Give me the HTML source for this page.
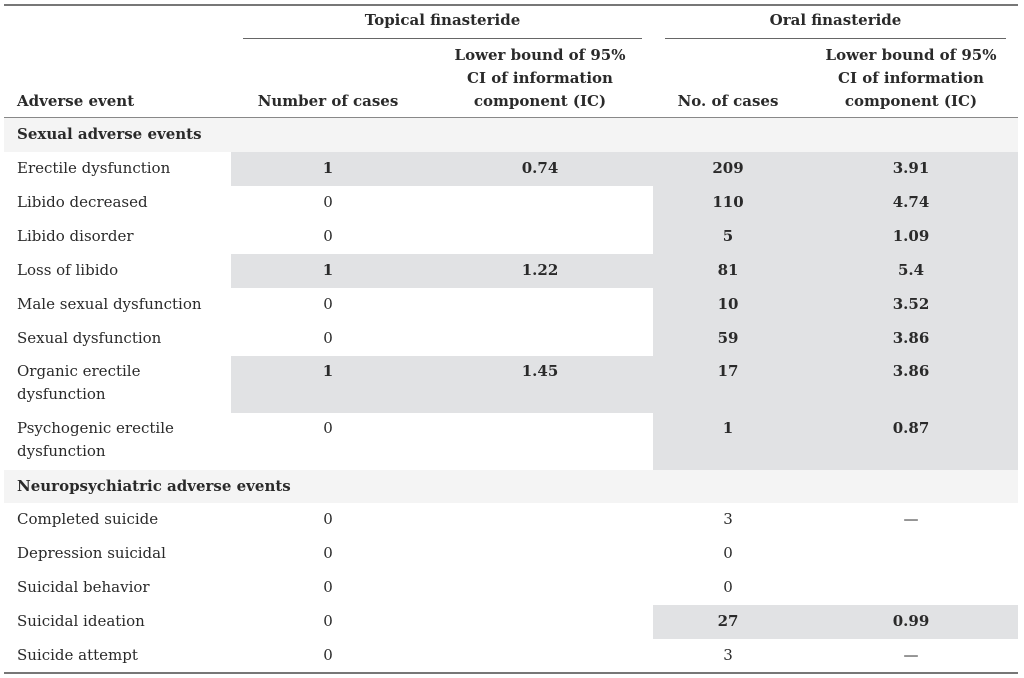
<!DOCTYPE html>
<html><head><meta charset="utf-8"><style>
body{margin:0;width:1024px;height:678px;background:#fff;font-family:"DejaVu Serif","Liberation Serif",serif;font-size:15px;color:#2a2a2a;position:relative;overflow:hidden}
div{position:absolute}
.t{white-space:nowrap;line-height:22px;margin-top:-1px}
.b{font-weight:bold}
.c{text-align:center}
.sh{background:#e1e2e4}
.lg{background:#f4f4f4}
</style></head><body>
<div style="left:4px;top:4px;width:1014px;height:2px;background:#777"></div>
<div class="t b c" style="left:243px;width:399px;top:10px">Topical finasteride</div>
<div class="t b c" style="left:665px;width:341px;top:10px">Oral finasteride</div>
<div style="left:243px;top:38px;width:399px;height:1px;background:#666"></div>
<div style="left:665px;top:38px;width:341px;height:1px;background:#666"></div>
<div class="t b" style="left:17px;top:91px">Adverse event</div>
<div class="t b c" style="left:228px;width:200px;top:91px">Number of cases</div>
<div class="t b c" style="left:424px;width:232px;top:45px;line-height:23px">Lower bound of 95%<br>CI of information<br>component (IC)</div>
<div class="t b c" style="left:628px;width:200px;top:91px">No. of cases</div>
<div class="t b c" style="left:796px;width:230px;top:45px;line-height:23px">Lower bound of 95%<br>CI of information<br>component (IC)</div>
<div style="left:4px;top:117px;width:1014px;height:1px;background:#888"></div>

<div class="lg" style="left:4px;top:118px;width:1014px;height:34px"></div>
<div class="t b" style="left:17px;top:124px">Sexual adverse events</div>
<div class="lg" style="left:4px;top:470px;width:1014px;height:33px"></div>
<div class="t b" style="left:17px;top:476px">Neuropsychiatric adverse events</div>

<div class="sh" style="left:231px;top:152px;width:787px;height:34px"></div>
<div class="sh" style="left:653px;top:186px;width:365px;height:68px"></div>
<div class="sh" style="left:231px;top:254px;width:787px;height:34px"></div>
<div class="sh" style="left:653px;top:288px;width:365px;height:68px"></div>
<div class="sh" style="left:231px;top:356px;width:787px;height:57px"></div>
<div class="sh" style="left:653px;top:413px;width:365px;height:57px"></div>
<div class="sh" style="left:653px;top:605px;width:365px;height:34px"></div>

<div class="t" style="left:17px;top:158px">Erectile dysfunction</div>
<div class="t" style="left:17px;top:192px">Libido decreased</div>
<div class="t" style="left:17px;top:226px">Libido disorder</div>
<div class="t" style="left:17px;top:260px">Loss of libido</div>
<div class="t" style="left:17px;top:294px">Male sexual dysfunction</div>
<div class="t" style="left:17px;top:328px">Sexual dysfunction</div>
<div class="t" style="left:17px;top:361px;line-height:23px">Organic erectile<br>dysfunction</div>
<div class="t" style="left:17px;top:418px;line-height:23px">Psychogenic erectile<br>dysfunction</div>
<div class="t" style="left:17px;top:509px">Completed suicide</div>
<div class="t" style="left:17px;top:543px">Depression suicidal</div>
<div class="t" style="left:17px;top:577px">Suicidal behavior</div>
<div class="t" style="left:17px;top:611px">Suicidal ideation</div>
<div class="t" style="left:17px;top:645px">Suicide attempt</div>

<div class="t c b" style="left:308px;width:40px;top:158px">1</div>
<div class="t c" style="left:308px;width:40px;top:192px">0</div>
<div class="t c" style="left:308px;width:40px;top:226px">0</div>
<div class="t c b" style="left:308px;width:40px;top:260px">1</div>
<div class="t c" style="left:308px;width:40px;top:294px">0</div>
<div class="t c" style="left:308px;width:40px;top:328px">0</div>
<div class="t c b" style="left:308px;width:40px;top:361px">1</div>
<div class="t c" style="left:308px;width:40px;top:418px">0</div>
<div class="t c" style="left:308px;width:40px;top:509px">0</div>
<div class="t c" style="left:308px;width:40px;top:543px">0</div>
<div class="t c" style="left:308px;width:40px;top:577px">0</div>
<div class="t c" style="left:308px;width:40px;top:611px">0</div>
<div class="t c" style="left:308px;width:40px;top:645px">0</div>

<div class="t c b" style="left:510px;width:60px;top:158px">0.74</div>
<div class="t c b" style="left:510px;width:60px;top:260px">1.22</div>
<div class="t c b" style="left:510px;width:60px;top:361px">1.45</div>

<div class="t c b" style="left:698px;width:60px;top:158px">209</div>
<div class="t c b" style="left:698px;width:60px;top:192px">110</div>
<div class="t c b" style="left:698px;width:60px;top:226px">5</div>
<div class="t c b" style="left:698px;width:60px;top:260px">81</div>
<div class="t c b" style="left:698px;width:60px;top:294px">10</div>
<div class="t c b" style="left:698px;width:60px;top:328px">59</div>
<div class="t c b" style="left:698px;width:60px;top:361px">17</div>
<div class="t c b" style="left:698px;width:60px;top:418px">1</div>
<div class="t c" style="left:698px;width:60px;top:509px">3</div>
<div class="t c" style="left:698px;width:60px;top:543px">0</div>
<div class="t c" style="left:698px;width:60px;top:577px">0</div>
<div class="t c b" style="left:698px;width:60px;top:611px">27</div>
<div class="t c" style="left:698px;width:60px;top:645px">3</div>

<div class="t c b" style="left:881px;width:60px;top:158px">3.91</div>
<div class="t c b" style="left:881px;width:60px;top:192px">4.74</div>
<div class="t c b" style="left:881px;width:60px;top:226px">1.09</div>
<div class="t c b" style="left:881px;width:60px;top:260px">5.4</div>
<div class="t c b" style="left:881px;width:60px;top:294px">3.52</div>
<div class="t c b" style="left:881px;width:60px;top:328px">3.86</div>
<div class="t c b" style="left:881px;width:60px;top:361px">3.86</div>
<div class="t c b" style="left:881px;width:60px;top:418px">0.87</div>
<div class="t c" style="left:881px;width:60px;top:509px">—</div>
<div class="t c b" style="left:881px;width:60px;top:611px">0.99</div>
<div class="t c" style="left:881px;width:60px;top:645px">—</div>

<div style="left:4px;top:672px;width:1014px;height:2px;background:#777"></div>
</body></html>
